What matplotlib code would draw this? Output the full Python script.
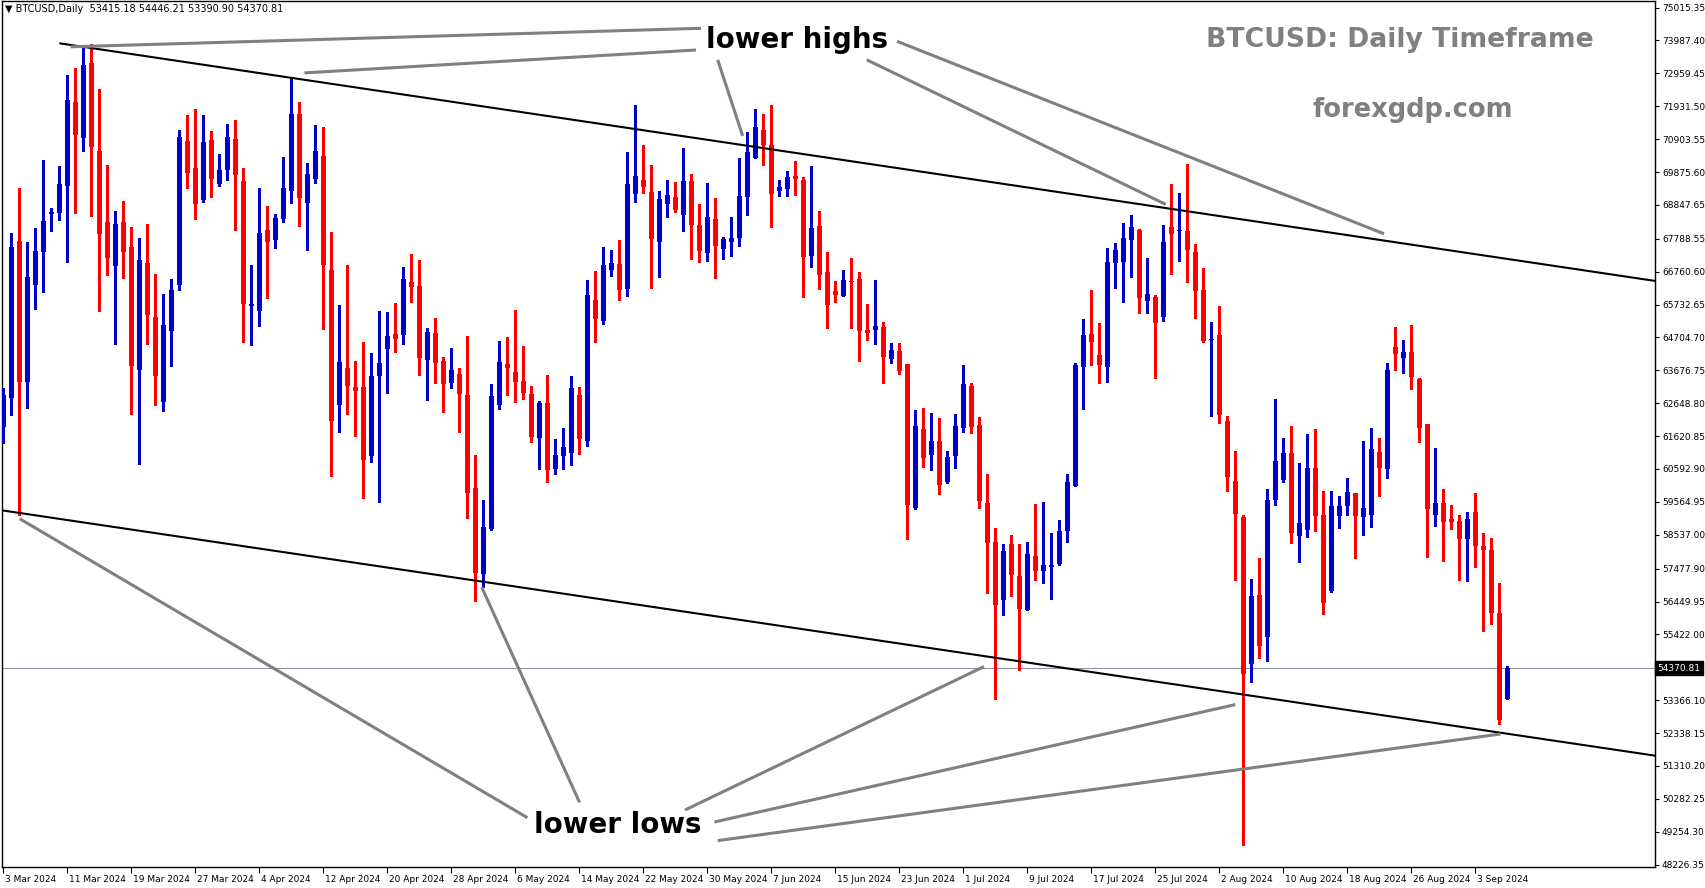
import matplotlib.pyplot as plt
import numpy as np
from matplotlib.lines import Line2D
from matplotlib.transforms import ScaledTranslation, blended_transform_factory

# daily candles BTCUSD, 3 Mar 2024 .. 7 Sep 2024
opens = [61915, 62822, 67730, 63322, 66344, 67386, 68553, 68605, 69449, 72075,
         70950, 73294, 70533, 68324, 66948, 68324, 67542, 63687, 67042, 65354,
         62697, 64906, 66344, 70845, 70012, 69001, 70877, 69501, 69939, 70908,
         69595, 65688, 65542, 68063, 67751, 68407, 69282, 71689, 68918, 69658,
         70377, 66813, 62593, 63749, 63155, 63155, 61009, 63510, 64354, 64812,
         64791, 66438, 66313, 64010, 64843, 63968, 63291, 63562, 62905, 59998,
         57320, 58727, 62593, 63875, 63625, 63343, 62937, 61562, 62656, 60593,
         60999, 61093, 62906, 61468, 65875, 65219, 66813, 67000, 66219, 69189,
         69627, 69252, 67689, 68876, 69095, 68533, 69595, 68220, 67345, 68407,
         67470, 67689, 67814, 69095, 70314, 71190, 70721, 69283, 69345, 69752,
         69627, 67251, 68189, 66750, 66156, 66000, 66469, 66531, 64937, 64937,
         65031, 64031, 64281, 63874, 59373, 61843, 61030, 61467, 60186, 60998,
         61874, 63187, 61963, 59527, 58308, 56510, 58245, 57250, 56193, 57875,
         57388, 57536, 57610, 58668, 60075, 63767, 64814, 64169, 63767, 67025,
         67057, 67766, 68073, 65830, 65970, 65333, 68149, 68022, 68036, 67371,
         66182, 64611, 64795, 62078, 60210, 59078, 54493, 56644, 55342, 59616,
         60239, 61088, 58484, 58680, 60623, 59154, 56789, 59133, 59446, 59842,
         59102, 59165, 61124, 60603, 64406, 64072, 64250, 63406, 61999, 59165,
         59529, 59029, 58967, 58414, 59248, 58185, 58060, 56091, 53415.18]
highs = [63114, 67980, 69387, 67699, 68136, 70251, 68761, 70064, 72909, 73138,
         73794, 73878, 72471, 70095, 68657, 68970, 68167, 67803, 68251, 66688,
         66063, 66532, 71189, 71658, 71846, 71658, 71158, 70439, 71377, 71502,
         70012, 66969, 69387, 68824, 68563, 70345, 72836, 72065, 70158, 71346,
         71283, 68001, 65719, 66969, 63968, 64562, 64218, 65531, 65500, 65781,
         66907, 67313, 67125, 64999, 65312, 64093, 64375, 63749, 64750, 61030,
         59633, 63249, 64604, 64729, 65563, 64437, 63187, 62718, 63531, 61530,
         61874, 63500, 63156, 66500, 66782, 67532, 67438, 67751, 70502, 71971,
         70721, 70096, 69283, 69627, 69564, 70627, 69814, 68876, 69533, 69064,
         67845, 68470, 70314, 71127, 71846, 71690, 71971, 69627, 69908, 70220,
         69720, 70064, 68657, 67376, 66469, 66813, 67200, 66750, 65750, 66500,
         65187, 64531, 64531, 63874, 62436, 62499, 62343, 62186, 61155, 62311,
         63843, 63280, 62218, 60430, 58753, 58255, 58541, 58245, 58308, 59504,
         59567, 58594, 58996, 60424, 63915, 65290, 66200, 65164, 67512, 67671,
         68295, 68538, 68105, 67195, 66026, 68206, 69493, 69210, 70116, 67611,
         66890, 65177, 65673, 62234, 61144, 59149, 57140, 57805, 59956, 62786,
         61555, 61951, 60776, 61682, 61843, 59904, 59904, 59748, 60311, 59842,
         61467, 61874, 61561, 63906, 65031, 64625, 65094, 63437, 61999, 61249,
         59967, 59467, 59154, 59248, 59842, 58591, 58435, 57028, 54446.21]
lows = [61394, 62280, 59154, 62509, 65583, 66136, 68032, 68376, 67073, 68605,
        70543, 68501, 65542, 66657, 64500, 66552, 62311, 60748, 64500, 62593,
        62416, 63822, 66188, 69387, 68407, 68949, 69105, 69449, 69626, 68063,
        64573, 64468, 65073, 65948, 67511, 68324, 68918, 68199, 67438, 69543,
        64969, 60384, 61759, 62322, 61634, 59696, 60821, 59571, 62968, 64260,
        64510, 65823, 63531, 62759, 63280, 62384, 63135, 61759, 59071, 56476,
        56914, 58696, 62468, 62906, 62687, 62781, 61437, 60593, 60186, 60436,
        60593, 60718, 61061, 61311, 64562, 65125, 66625, 65875, 66000, 68939,
        69220, 66251, 66594, 68470, 68626, 68032, 67157, 67063, 67095, 66563,
        67157, 67251, 67563, 68533, 70314, 70096, 68157, 69126, 69126, 69158,
        65969, 66907, 66219, 65000, 65812, 66000, 65000, 63968, 64625, 64500,
        63280, 63906, 63562, 58404, 59342, 60655, 60561, 59811, 60154, 60623,
        61749, 61717, 59373, 56720, 53400, 56034, 56616, 54300, 56171, 57124,
        57039, 56542, 57578, 58308, 60075, 62455, 63852, 63270, 63302, 66243,
        65819, 66581, 65481, 65481, 63423, 65234, 66677, 67088, 66423, 65319,
        64555, 62234, 62022, 59899, 57125, 48833, 53927, 54677, 54578, 59474,
        60182, 58286, 57691, 58470, 58664, 56070, 56758, 58758, 59165, 57820,
        58539, 58789, 59759, 60321, 63697, 63603, 63103, 61447, 57852, 58821,
        57727, 58727, 57133, 57101, 57539, 55538, 55757, 52631, 53390.90]
closes = [62905, 67542, 63322, 66604, 67417, 68345, 68636, 69501, 72127, 71033,
          73221, 70668, 67928, 67198, 68251, 67386, 63822, 67125, 65406, 63510,
          65094, 66188, 70981, 69855, 68876, 70814, 69668, 69939, 70970, 69783,
          65750, 65750, 67969, 67699, 68438, 69376, 71689, 69074, 69814, 70533,
          66969, 62103, 63937, 63197, 63030, 60884, 63499, 63905, 64750, 64666,
          66532, 66292, 64072, 64875, 63916, 63260, 63687, 62947, 59852, 57351,
          58779, 62874, 63937, 63750, 63312, 62968, 61593, 62656, 60561, 61030,
          61280, 63125, 61530, 66032, 65281, 66969, 67032, 66188, 69501, 69752,
          69408, 67782, 69033, 69158, 68689, 69595, 68220, 67407, 68470, 67563,
          67782, 67814, 69126, 70502, 71283, 70721, 69189, 69408, 69720, 69658,
          67220, 68126, 66657, 65719, 66031, 66500, 66438, 64906, 64843, 65062,
          64093, 64312, 63656, 59467, 61936, 60936, 61467, 60092, 60967, 61936,
          63249, 61905, 59606, 58283, 56351, 58033, 57293, 56224, 57938, 57388,
          57589, 57589, 58657, 60191, 63852, 64793, 64550, 63831, 67078, 67449,
          67798, 68168, 65925, 66073, 65163, 67682, 67923, 68064, 67441, 66154,
          64597, 64640, 62291, 60352, 59191, 54196, 56616, 55059, 59616, 60833,
          61088, 58597, 58894, 60636, 59133, 56414, 59435, 59435, 59873, 59133,
          59373, 61217, 60634, 63687, 64197, 64250, 63478, 61884, 59352, 59529,
          58946, 58946, 58414, 59029, 58195, 58070, 56101, 52756, 54370.81]

date_labels = ["3 Mar 2024", "11 Mar 2024", "19 Mar 2024", "27 Mar 2024", "4 Apr 2024",
               "12 Apr 2024", "20 Apr 2024", "28 Apr 2024", "6 May 2024", "14 May 2024",
               "22 May 2024", "30 May 2024", "7 Jun 2024", "15 Jun 2024", "23 Jun 2024",
               "1 Jul 2024", "9 Jul 2024", "17 Jul 2024", "25 Jul 2024", "2 Aug 2024",
               "10 Aug 2024", "18 Aug 2024", "26 Aug 2024", "3 Sep 2024"]
price_labels = ["75015.35", "73987.40", "72959.45", "71931.50", "70903.55", "69875.60",
                "68847.65", "67788.55", "66760.60", "65732.65", "64704.70", "63676.75",
                "62648.80", "61620.85", "60592.90", "59564.95", "58537.00", "57477.90",
                "56449.95", "55422.00", "53366.10", "52338.15", "51310.20", "50282.25",
                "49254.30", "48226.35"]
last_price = 54370.81

# channel lines (bar index, price)
upper_channel = ([7.0, 206.5], [73900, 66470])
lower_channel = ([-0.45, 206.5], [59310, 51630])

W, H = 1705, 888
BULL = "#0000cd"
BEAR = "#ff0000"
GRAY = "#808080"

fig = plt.figure(figsize=(W / 100, H / 100), dpi=100)
ax = fig.add_axes([2 / W, 21 / H, 1653 / W, 866 / H])

o = np.array(opens, dtype=float)
h = np.array(highs, dtype=float)
l = np.array(lows, dtype=float)
c = np.array(closes, dtype=float)
x = np.arange(len(o))
up = c >= o
colors = np.where(up, BULL, BEAR)

ax.vlines(x, l, h, colors=colors, linewidth=0.9, antialiased=False, zorder=3)
body_lo = np.minimum(o, c)
body_h = np.maximum(np.abs(c - o), 32)
ax.bar(x, body_h, bottom=body_lo, width=0.7, color=colors, linewidth=0,
       antialiased=False, zorder=4)

ax.plot(*upper_channel, color="black", lw=1.5, zorder=5, solid_capstyle="butt")
ax.plot(*lower_channel, color="black", lw=1.5, zorder=5, solid_capstyle="butt")
ax.axhline(last_price, color="#8a96a3", lw=0.8, zorder=2)

ax.set_xlim(-0.1625, 206.46)
ax.set_ylim(48150.6, 75221.7)

# axes
for sp in ax.spines.values():
    sp.set_color("black")
    sp.set_linewidth(1)
ax.yaxis.tick_right()
ax.set_yticks([float(v) for v in price_labels])
ax.set_yticklabels(price_labels)
ax.set_xticks(np.arange(0, 8 * len(date_labels), 8))
ax.set_xticklabels(date_labels, ha="left")
ax.tick_params(axis="y", length=3, width=0.8, pad=2, labelsize=6.5, direction="out")
ax.tick_params(axis="x", length=4, width=0.8, pad=2, labelsize=6.5, direction="out")
shift = ScaledTranslation(2 / 100, 0, fig.dpi_scale_trans)
for lab in ax.get_xticklabels():
    lab.set_transform(lab.get_transform() + shift)

# current price marker on the right axis
trans = blended_transform_factory(ax.transAxes, ax.transData)
ax.text(1.0015, last_price, f"{last_price:.2f}", transform=trans, fontsize=6.5,
        color="white", va="center", ha="left", clip_on=False,
        bbox=dict(boxstyle="square,pad=0.25", fc="black", ec="black"))

# header
fig.text(5 / W, 1 - 9 / H, "▼ BTCUSD,Daily  53415.18 54446.21 53390.90 54370.81",
         fontsize=7, va="center", ha="left")


def fig_line(x0, y0, x1, y1):
    fig.add_artist(Line2D([x0 / W, x1 / W], [1 - y0 / H, 1 - y1 / H],
                          color=GRAY, lw=2.2, solid_capstyle="butt", zorder=6))


# pointer lines (pixel coords)
for seg in [(70.7, 46.8, 701, 28.3), (304.5, 72.9, 696, 50), (717.7, 59.8, 742.7, 136),
            (866.7, 59.8, 1165.7, 204.4), (897, 41.3, 1384, 233.8),
            (19.6, 518.7, 527.4, 817.7), (481.7, 587.2, 579.6, 802.5),
            (685, 810, 984, 666.6), (714.4, 822, 1235.3, 704.6),
            (717.7, 840.6, 1500.6, 734)]:
    fig_line(*seg)

fig.text(797 / W, 1 - 40 / H, "lower highs", fontsize=20, fontweight="bold",
         ha="center", va="center")
fig.text(617.6 / W, 1 - 825 / H, "lower lows", fontsize=20, fontweight="bold",
         ha="center", va="center")
fig.text(1399.5 / W, 1 - 40 / H, "BTCUSD: Daily Timeframe", fontsize=19.2,
         fontweight="bold", color=GRAY, ha="center", va="center")
fig.text(1412.5 / W, 1 - 110 / H, "forexgdp.com", fontsize=18.5, fontweight="bold",
         color=GRAY, ha="center", va="center")

fig.savefig("out.png", dpi=100, facecolor="white")
